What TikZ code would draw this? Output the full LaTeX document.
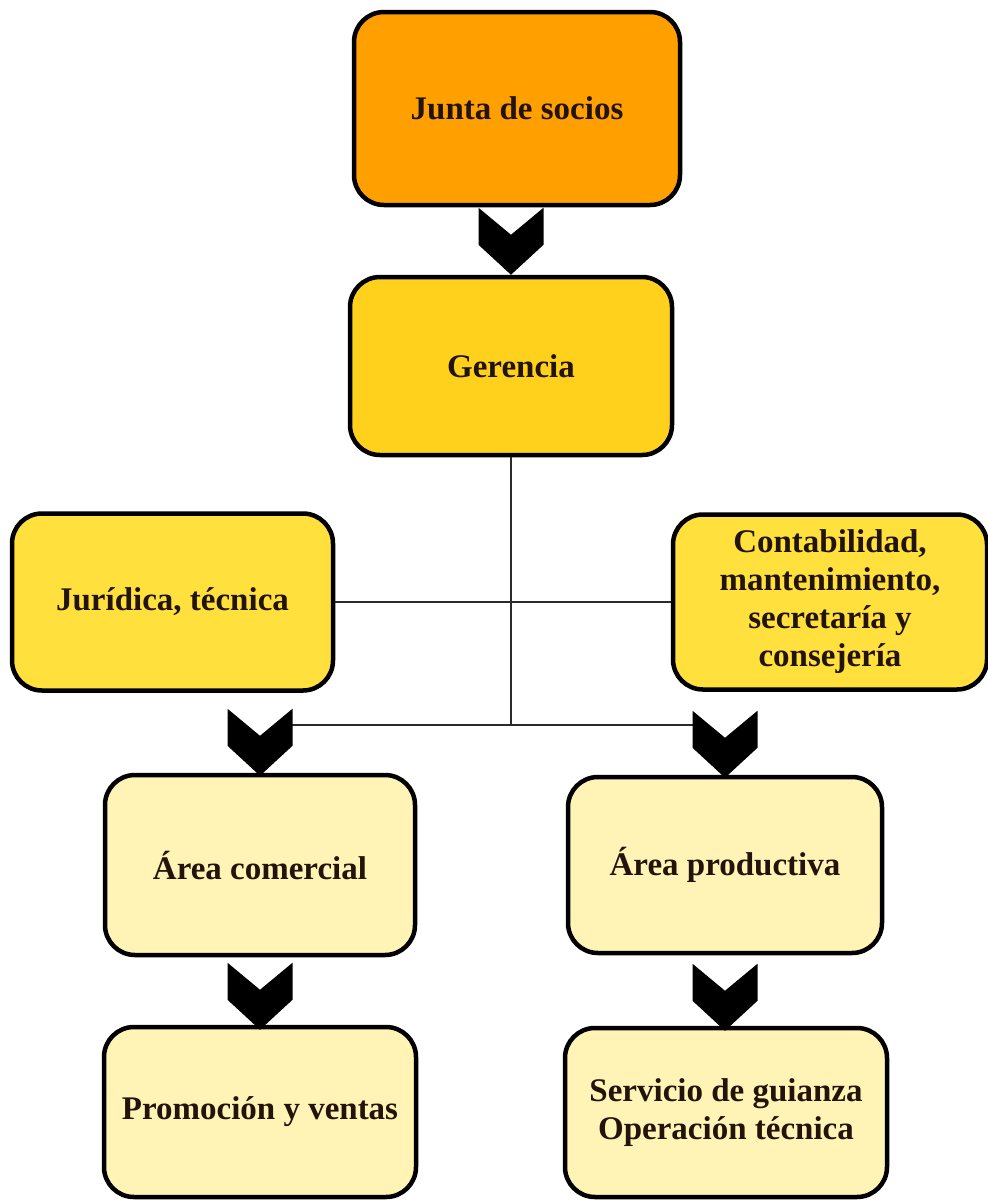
\documentclass[tikz,border=0pt]{standalone}
\usepackage{fontspec}
\setmainfont{Liberation Serif}
\definecolor{cjunta}{HTML}{FF9F00}
\definecolor{cger}{HTML}{FFD11C}
\definecolor{cmid}{HTML}{FFE03C}
\definecolor{clow}{HTML}{FFF3B5}
\definecolor{ctext}{HTML}{22140A}
\definecolor{cline}{HTML}{2A2A2A}
\tikzset{
  box/.style={draw=black, line width=4.5pt, rounded corners=30pt, inner sep=0pt,
    align=center, text=ctext, font=\fontsize{33}{38}\selectfont\bfseries},
  conn/.style={draw=cline, line width=1.8pt},
  chevdown/.pic={\fill[black] (-32.5,-67) -- (0,-40) -- (32.5,-67) -- (32.5,-30) -- (0,0) -- (-32.5,-30) -- cycle;}
}
\begin{document}
\begin{tikzpicture}[x=1pt,y=-1pt]
\useasboundingbox (0,0) rectangle (988,1203);
\node[box, fill=cjunta, minimum width=326pt, minimum height=193pt] (junta) at (517,108.5) {Junta de socios};
\node[box, fill=cger, minimum width=322pt, minimum height=178pt] (ger) at (511,366) {Gerencia};
\node[box, fill=cmid, minimum width=321pt, minimum height=177pt] (jur) at (172.5,602) {Jurídica, técnica};
\node[box, fill=cmid, minimum width=314pt, minimum height=175pt] (cont) at (830,602) {Contabilidad,\\mantenimiento,\\secretaría y\\consejería};
\node[box, fill=clow, minimum width=310pt, minimum height=180pt] (acom) at (260,865) {Área comercial};
\node[box, fill=clow, minimum width=314pt, minimum height=176pt] (aprod) at (725,865) {Área productiva};
\node[box, fill=clow, minimum width=312pt, minimum height=170pt] (prom) at (260,1112) {Promoción y ventas};
\node[box, fill=clow, minimum width=322pt, minimum height=169pt] (serv) at (726,1112.5) {Servicio de guianza\\Operación técnica};
\coordinate (hl) at (292,725);
\coordinate (hr) at (693,725);
\draw[conn] (jur.east) -- (jur.east -| cont.west);
\draw[conn] (hl) -- (hr);
\draw[conn] (ger.south) -- (ger.south |- hl);
\pic at (ger.north) {chevdown};
\pic at ([yshift=-3pt]acom.north) {chevdown};
\pic at ([yshift=-3pt]aprod.north) {chevdown};
\pic at ([yshift=-5pt]prom.north) {chevdown};
\pic at ([yshift=-5pt]serv.north -| aprod.north) {chevdown};
\end{tikzpicture}
\end{document}
